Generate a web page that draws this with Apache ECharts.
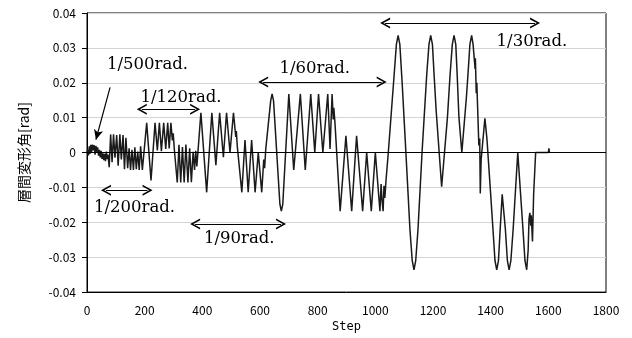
<!DOCTYPE html>
<html><head><meta charset="utf-8">
<script src="https://cdn.jsdelivr.net/npm/echarts@6/dist/echarts.min.js"></script>
<style>html,body{margin:0;padding:0;background:#fff}#c{width:632px;height:338px}</style>
</head><body><div id="c"></div>
<script>
// Step values of the turning points of the drift history
const steps = [
 0,3,5,8,10,13,16,19,22,25,28,31,34,37,40,43,46,49,52,55,58,61,64,67,70,73,
 77,82,87,92,97,103,108,114,119,125,130,135,141,146,151,156,161,166,171,176,181,186,192,197,
 207,222,236,244,251,258,266,273,280,285,291,296,299,303,313,319,325,331,337,343,350,356,362,368,373,377,381,
 395,415,433,447,460,473,484,496,508,516,518,521,537,548,559,571,583,594,606,613,616,620,
 637,642,647,669,674,679,700,717,740,757,776,790,803,818,835,843,850,854,856,860,866,878,898,918,935,956,970,986,1000,1016,1020,1023,1027,1030,1033,1037,1045,
 1065,1073,1079,1085,1093,1106,1120,1128,1134,1140,1148,1162,1178,1186,1192,1198,1204,1211,1230,1250,1259,1267,1273,1279,1284,1290,1300,1316,1321,1328,1334,1339,1346,1347,1350,1352,1359,1362,1364,1367,1380,1387,1400,1408,1415,1421,1427,1433,1440,1451,1458,1464,1470,1478,1494,1512,1519,1525,1530,1533,1536,1539,1541,1545,1549,1556,1600,1602,1604
];
// Story drift angle [rad] at those steps
const drift = [
 0,0.0008,-0.0008,0.0018,-0.0004,0.0022,0.0002,0.0023,0.0006,0.0021,-0.0006,0.0019,0.0001,0.0015,-0.0009,0.0008,-0.0014,0.0005,-0.0018,-0.0002,-0.0022,-0.0004,-0.0025,0.0003,-0.0019,-0.0006,
 -0.0042,0.0052,-0.0028,0.0052,-0.0015,0.005,-0.0038,0.0052,-0.002,0.005,-0.0048,0.0042,-0.0045,0.0012,-0.005,0.0008,-0.005,0.0015,-0.0048,0.0003,-0.005,0.0018,-0.005,-0.0005,
 0.0085,-0.008,0.0085,0.0006,0.0085,0.0004,0.0085,0.001,0.0085,0.0012,0.0085,0.0035,0.0055,0.0008,-0.0086,0.0022,-0.0086,0.0016,-0.0086,0.0023,-0.0086,0.0012,-0.0085,0.0002,-0.005,0.0005,-0.004,
 0.0114,-0.0114,0.0114,-0.0036,0.0114,-0.0013,0.0114,0,0.0114,0.0045,0.0062,0.002,-0.0114,0.0036,-0.0114,0.0036,-0.0114,0,-0.0114,-0.002,-0.0045,0.001,
 0.0148,0.0168,0.0148,-0.0148,-0.0168,-0.0148,0.0168,-0.005,0.0168,-0.005,0.0168,0,0.0168,0,0.0168,0.001,0.0168,0.0095,0.0128,0.0085,0,-0.0168,0.0048,-0.0168,0.0048,-0.0168,0,-0.0168,0,-0.0168,-0.009,-0.0135,-0.0168,-0.0095,-0.013,-0.008,0,
 0.022,0.031,0.0336,0.031,0.02,0,-0.022,-0.031,-0.0336,-0.031,-0.022,0,0.022,0.031,0.0336,0.031,0.022,0.012,-0.0098,0.01,0.022,0.031,0.0336,0.031,0.022,0.01,0,0.016,0.022,0.031,0.0336,0.031,0.024,0.027,0.017,0.02,0.002,0.004,-0.0117,-0.002,0.0098,0.004,-0.012,-0.022,-0.031,-0.0336,-0.031,-0.022,-0.012,-0.022,-0.031,-0.0336,-0.031,-0.022,0,-0.022,-0.031,-0.0336,-0.028,-0.019,-0.0173,-0.021,-0.018,-0.0255,-0.012,0,0,0.0012,0
];
const xTicks = [0,200,400,600,800,1000,1200,1400,1600,1800];
const yTicks = [-0.04,-0.03,-0.02,-0.01,0,0.01,0.02,0.03,0.04];
// Annotation arrows: [step, value] of both ends
const arrowFrom = [[1034,0.0371],[611,0.0202],[190,0.0124],[66,-0.0108],[375,-0.0205]];
const arrowTo   = [[1554,0.0371],[1022,0.0202],[375,0.0124],[210,-0.0108],[673,-0.0205]];
const pointerFrom = [80,0.0187];
const pointerTo = [31,0.0037];
// Annotation labels
const labelText = ['1/500rad.','1/120rad.','1/60rad.','1/30rad.','1/200rad.','1/90rad.'];
const labelPos = [[210,0.0253],[326,0.0158],[790,0.0239],[1543,0.0317],[165,-0.0159],[528,-0.0246]];

const data = steps.map((s,i)=>[s,drift[i]]);
const chevron = 'path://M0,10 L5,0 L10,10 L8.4,10 L5,3.2 L1.6,10 Z';
const arrowLines = arrowFrom.map((f,i)=>[
  {coord:f, symbol:chevron, symbolSize:[11,10]},
  {coord:arrowTo[i], symbol:chevron, symbolSize:[11,10]}
]);
arrowLines.push([{coord:pointerFrom, symbol:'none'},{coord:pointerTo, symbol:'arrow', symbolSize:[7,10]}]);

const chart = echarts.init(document.getElementById('c'), null, {renderer:'canvas'});
const axisFont = {fontFamily:'"Noto Sans CJK JP", sans-serif', fontSize:12, color:'#000'};
chart.setOption({
  animation:false,
  backgroundColor:'#fff',
  grid:{left:87,right:26,top:13,bottom:40,show:true,borderColor:'#000',borderWidth:1,backgroundColor:'transparent'},
  xAxis:{type:'value',min:xTicks[0],max:xTicks[xTicks.length-1],interval:xTicks[1]-xTicks[0],
    name:'Step',nameLocation:'middle',nameGap:27,
    nameTextStyle:{fontFamily:'"DejaVu Sans Mono", monospace',fontSize:12,color:'#000'},
    axisLine:{show:true,onZero:false,lineStyle:{color:'#000',width:1}},
    axisTick:{show:false},
    splitLine:{show:false},
    axisLabel:Object.assign({margin:12,formatter:v=>String(v)},axisFont)},
  yAxis:{type:'value',min:yTicks[0],max:yTicks[yTicks.length-1],interval:0.01,
    name:'層間変形角[rad]',nameLocation:'middle',nameGap:56,nameRotate:90,
    nameTextStyle:{fontFamily:'"Noto Sans CJK JP", sans-serif',fontSize:14,color:'#000'},
    axisLine:{show:true,lineStyle:{color:'#000',width:1}},
    axisTick:{show:true,inside:false,length:5,lineStyle:{color:'#000'}},
    splitLine:{show:true,lineStyle:{color:'#d4d4d4',width:1}},
    axisLabel:Object.assign({margin:11,formatter:v=>Math.abs(v)<1e-9?'0':v.toFixed(2)},axisFont)},
  series:[{
    type:'line',data:data,showSymbol:false,symbol:'none',
    lineStyle:{color:'#1a1a1a',width:1.5},
    z:3,
    markLine:{silent:true,symbol:'none',animation:false,
      label:{show:false},
      lineStyle:{color:'#000',width:1.2,type:'solid'},
      data:[[{coord:[0,0]},{coord:[1800,0]}]].concat(arrowLines)},
    markPoint:{silent:true,animation:false,symbol:'circle',symbolSize:0,
      label:{show:true,position:'inside',color:'#000',fontFamily:'"DejaVu Serif", serif',fontSize:16.5,
        formatter:p=>p.name},
      data:labelPos.map((p,i)=>({name:labelText[i],coord:p}))}
  }]
});
</script></body></html>
